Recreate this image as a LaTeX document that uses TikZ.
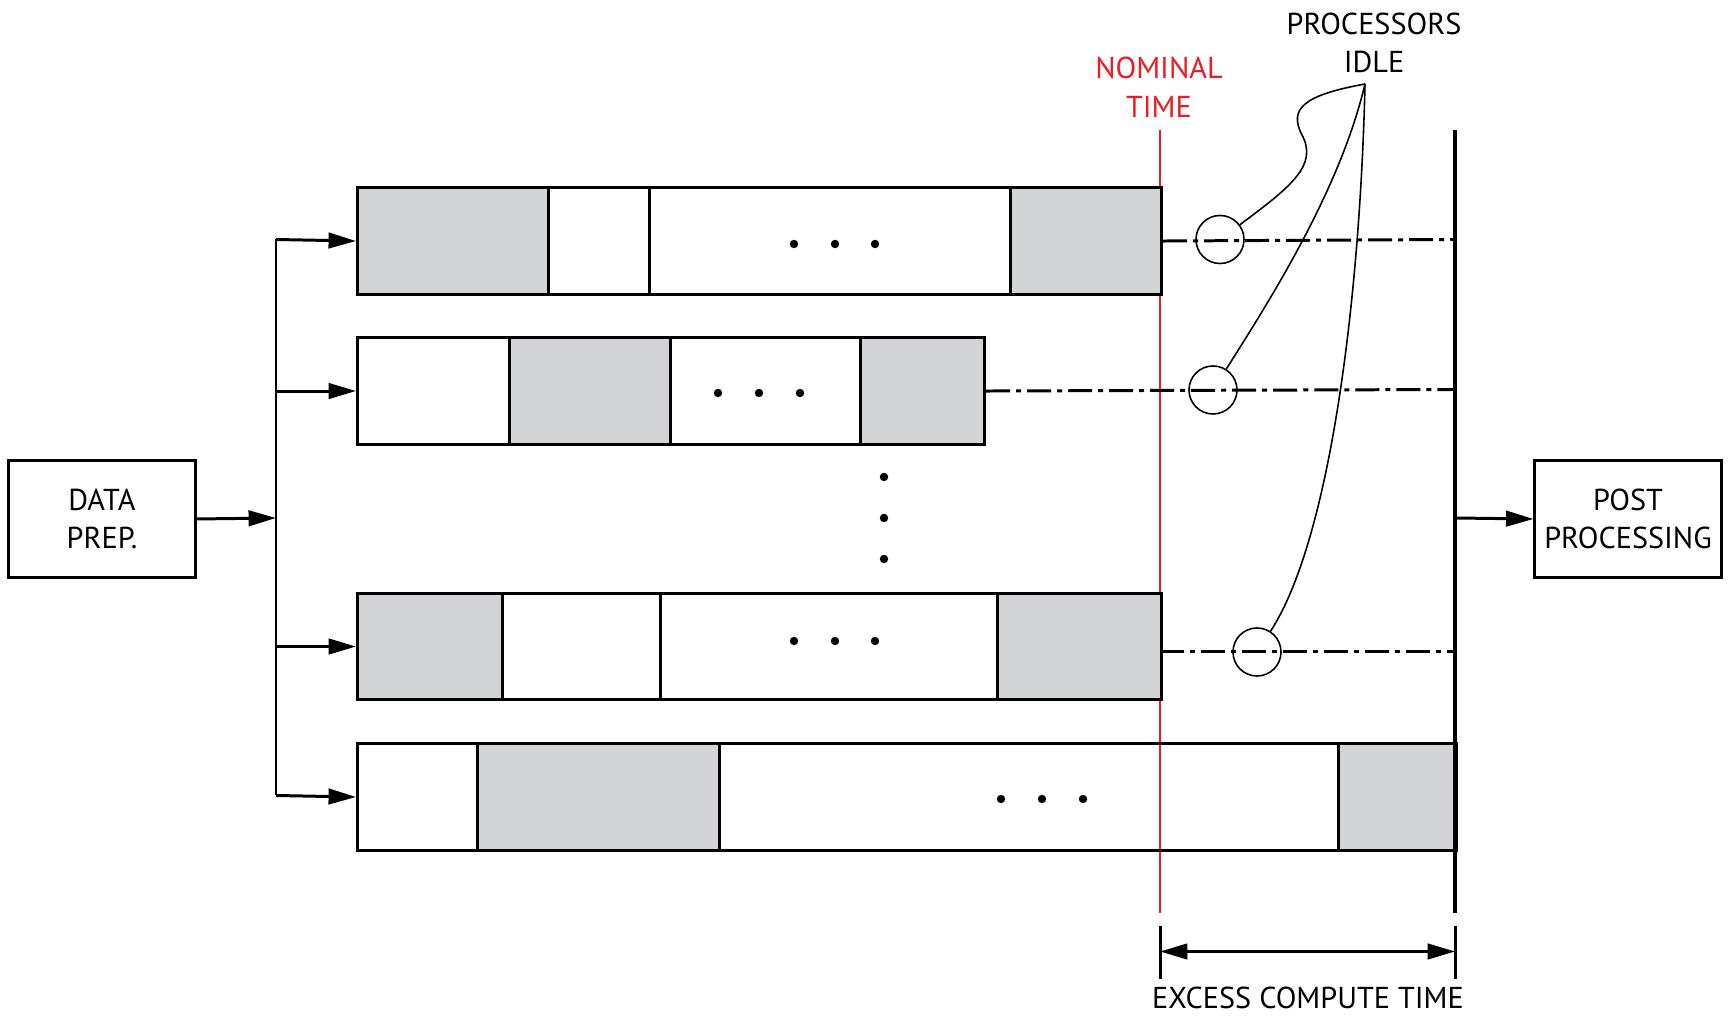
\documentclass[tikz,border=0pt]{standalone}
\usepackage{fontspec}
\setmainfont{PT Sans}
\usetikzlibrary{arrows.meta}
\definecolor{busygray}{RGB}{209,211,212}
\definecolor{nomred}{RGB}{237,28,36}
\tikzset{
  cell/.style={draw, line width=0.85pt, inner sep=0pt, anchor=north west},
  busy/.style={cell, fill=busygray},
  free/.style={cell},
  stagebox/.style={draw, line width=0.85pt, minimum width=1.86cm, minimum height=1.16cm,
    align=center, inner sep=0pt, font=\fontsize{8.6}{11}\selectfont},
  label/.style={align=center, inner sep=0pt, font=\fontsize{8.6}{11}\selectfont},
  arr/.style={line width=0.85pt, -{Triangle[length=7.8pt,width=4.4pt]}},
  idle/.style={line width=0.85pt, dash pattern=on 0.24cm off 0.06cm on 0.05cm off 0.06cm},
  mark circle/.style={draw, circle, line width=0.45pt, minimum size=0.48cm, inner sep=0pt},
  leader/.style={line width=0.45pt},
  dot/.style={fill=black, circle, inner sep=0pt, minimum size=2.4pt},
}
\begin{document}
\begin{tikzpicture}[x=0.01cm, y=-0.01cm]
\useasboundingbox (0,0) rectangle (1729,1016);

% nominal time line (drawn first so row edges sit on top of it)
\coordinate (nt) at (1160,130);
\coordinate (nb) at (1160,913);
\draw[nomred, line width=0.35pt] (nt) -- (nb);

% stages
\node[stagebox] (prep) at (102,519) {DATA\\PREP.};
\node[stagebox] (post) at (1628,519) {POST\\PROCESSING};

% processor 1
\node[busy, minimum width=1.91cm, minimum height=1.07cm] (r1a) at (356,186) {};
\node[free, minimum width=1.01cm, minimum height=1.07cm] (r1b) at (547,186) {};
\node[free, minimum width=3.61cm, minimum height=1.07cm] (r1c) at (648,186) {};
\node[busy, minimum width=1.51cm, minimum height=1.07cm] (r1d) at (1009,186) {};
% processor 2
\node[free, minimum width=1.52cm, minimum height=1.07cm] (r2a) at (356,336) {};
\node[busy, minimum width=1.61cm, minimum height=1.07cm] (r2b) at (508,336) {};
\node[free, minimum width=1.90cm, minimum height=1.07cm] (r2c) at (669,336) {};
\node[busy, minimum width=1.24cm, minimum height=1.07cm] (r2d) at (859,336) {};
% processor 3
\node[busy, minimum width=1.45cm, minimum height=1.06cm] (r3a) at (356,592) {};
\node[free, minimum width=1.58cm, minimum height=1.06cm] (r3b) at (501,592) {};
\node[free, minimum width=3.37cm, minimum height=1.06cm] (r3c) at (659,592) {};
\node[busy, minimum width=1.64cm, minimum height=1.06cm] (r3d) at (996,592) {};
% processor 4
\node[free, minimum width=1.20cm, minimum height=1.07cm] (r4a) at (356,742) {};
\node[busy, minimum width=2.42cm, minimum height=1.07cm] (r4b) at (476,742) {};
\node[free, minimum width=6.19cm, minimum height=1.07cm] (r4c) at (718,742) {};
\node[busy, minimum width=1.18cm, minimum height=1.07cm] (r4d) at (1337,742) {};

% ellipsis dots
\foreach \x/\y in {794/244, 835/244, 875/244,
                   718/393, 759/393, 800/393,
                   794/641, 835/641, 875/641,
                   1001/799, 1042/799, 1083/799,
                   884/477, 884/518, 884/559}
  \node[dot] at (\x,\y) {};

% fan-out bus
\coordinate (btop) at (276,239.5);
\coordinate (bmid) at (276,518);
\coordinate (bbot) at (276,795.5);
\draw[line width=0.85pt] (btop) -- (bbot);
\draw[arr] (prep.east) -- (bmid);
\draw[arr] (btop) -- (r1a.west);
\draw[arr] (r2a.west -| btop) -- (r2a.west);
\draw[arr] (r3a.west -| btop) -- (r3a.west);
\draw[arr] (bbot) -- (r4a.west);

% completion bus
\coordinate (ct) at (1455,130);
\coordinate (cb) at (1455,913);
\coordinate (cm) at (1455,518);
\draw[line width=1.1pt] (ct) -- (cb);
\draw[arr] (cm) -- (post.west);

% idle stretches
\coordinate (e1) at (1455,239.5);
\coordinate (e2) at (1455,389.5);
\coordinate (s3) at (1160,652);
\coordinate (e3) at (1455,652);
\draw[idle] (r1d.east) -- (e1);
\draw[idle] (r2d.east) -- (e2);
\draw[idle] (s3) -- (e3);

\node[mark circle] (c1) at (1220,239.5) {};
\node[mark circle] (c2) at (1213,390) {};
\node[mark circle] (c3) at (1257,652) {};

% labels
\node[label, text=nomred] (nomlbl) at (1159,87) {NOMINAL\\TIME};
\node[label] (idlelbl) at (1374,43) {PROCESSORS\\IDLE};
\coordinate (apex) at (1365,84);
\draw[leader] (c1) .. controls (1292,186) and (1318,165) .. (1302,135)
              .. controls (1288,108) and (1305,95) .. (apex);
\draw[leader] (c2) .. controls (1270,300) and (1340,190) .. (apex);
\draw[leader] (c3) .. controls (1330,540) and (1360,300) .. (apex);

% excess compute time dimension
\coordinate (d1t) at (1160,926);
\coordinate (d1b) at (1160,979);
\coordinate (d2t) at (1455,926);
\coordinate (d2b) at (1455,979);
\coordinate (d1) at (1160,951.5);
\coordinate (d2) at (1455,951.5);
\draw[line width=0.85pt] (d1t) -- (d1b);
\draw[line width=0.85pt] (d2t) -- (d2b);
\draw[line width=0.85pt, {Triangle[length=7.8pt,width=4.4pt]}-{Triangle[length=7.8pt,width=4.4pt]}] (d1) -- (d2);
\node[label] (excess) at (1308,998) {EXCESS COMPUTE TIME};
\end{tikzpicture}
\end{document}
